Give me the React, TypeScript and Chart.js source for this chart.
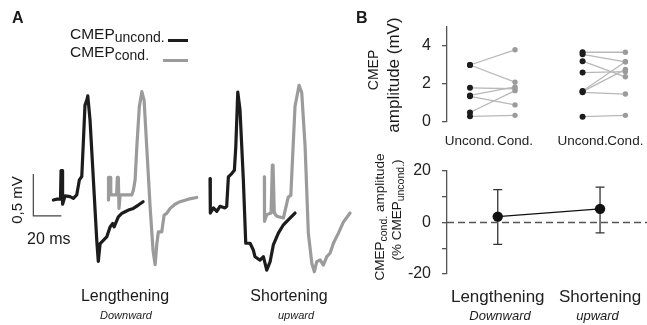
import React, { useEffect, useRef } from "react";
import { Chart, registerables } from "chart.js";
Chart.register(...registerables);
Chart.defaults.font.family = '"Liberation Sans", Arial, Helvetica, sans-serif';

// ---------------- Panel A: CMEP traces (t in ms from trace start, amplitude in mV) ----------------
const lengUncondT = [0, 2.6, 5.1, 5.5, 6.2, 6.6, 8.4, 11.9, 14.3, 16.7, 18.6, 20.3, 21.4, 22.6, 23.9, 24.6, 26.2, 28.6, 31.0, 32.1, 33.4, 35.7, 38.1, 40.5, 42.4, 43.4, 46.4, 48.9, 51.2, 53.6, 57.1, 60.7, 64.1];
const lengUncondMv = [0, 0.01, 0.01, 0.35, 0.35, -0.05, 0.05, 0.04, 0.02, 0.06, 0.24, 0.28, 0.68, 1.13, 1.19, 1.24, 0.95, 0.24, -0.48, -0.73, -0.52, -0.48, -0.44, -0.32, -0.28, -0.32, -0.2, -0.16, -0.14, -0.12, -0.1, -0.06, -0.02];
const lengCondT = [0, 0.1, 1.2, 1.7, 5.9, 6.4, 7.1, 7.6, 8.4, 16.7, 17.9, 19.1, 20.3, 22.1, 23.9, 25.5, 27.4, 29.8, 31.9, 33.4, 34.6, 35.7, 38.1, 39.8, 41.7, 44.1, 47.6, 51.2, 57.1, 63.1];
const lengCondMv = [0, 0.27, 0.27, 0.06, 0.06, 0.27, 0.27, -0.1, 0.06, 0.06, 0.12, 0.24, 0.63, 1.11, 1.29, 1.19, 0.63, -0.08, -0.6, -0.77, -0.52, -0.38, -0.38, -0.18, -0.16, -0.1, -0.05, -0.02, 0.01, 0.03];
const shortUncondT = [0, 0.2, 2.4, 4.8, 7.1, 10.7, 11.9, 13.1, 15.5, 17.4, 18.4, 19.8, 21.4, 23.8, 25.5, 28.6, 30.9, 32.1, 35.7, 38.1, 40.5, 42.9, 45.2, 48.8, 52.4, 57.1, 60.7];
const shortUncondMv = [0.35, -0.06, 0, -0.04, 0.02, 0, 0.02, 0.37, 0.41, 0.45, 0.73, 1.38, 1.17, 0.33, -0.42, -0.42, -0.5, -0.58, -0.62, -0.58, -0.74, -0.64, -0.44, -0.3, -0.2, -0.12, -0.06];
const shortCondT = [0, 0.1, 1.7, 4.8, 5.7, 6.2, 7.1, 8.9, 13.6, 17.1, 18.9, 20.3, 21.9, 24.8, 26.7, 29.1, 31.4, 33.9, 35.7, 37.4, 39.8, 42.1, 44.6, 46.9, 49.3, 52.9, 56.4, 61.2];
const shortCondMv = [0.43, -0.1, -0.02, 0, 0.57, 0.57, 0, -0.04, -0.06, 0.19, 0.21, 0.71, 1.27, 1.52, 1.43, 0.79, -0.24, -0.6, -0.7, -0.58, -0.56, -0.62, -0.52, -0.48, -0.36, -0.24, -0.11, 0];

// scale bar values
const scaleBarMv = 0.5;
const scaleBarMs = 20;

// ---------------- Panel B top: individual CMEP amplitudes (mV) ----------------
const lengUncond = [3.0, 3.0, 1.8, 1.4, 1.35, 0.5, 0.3];
const lengCond = [3.8, 2.1, 1.75, 1.85, 0.9, 1.65, 0.35];
const shortUncond = [3.67, 3.56, 3.2, 2.6, 1.63, 1.6, 1.56, 0.28];
const shortCond = [3.67, 3.17, 2.38, 2.65, 3.17, 2.77, 1.47, 0.35];
const pairTickLabels = ["Uncond.", "Cond.", "Uncond.", "Cond."];
const ampTicks = [0, 2, 4];

// ---------------- Panel B bottom: mean change (% CMEP uncond.) ----------------
const conditions = ["Lengthening", "Shortening"];
const directions = ["Downward", "upward"];
const meanChange = [2.3, 5.3];
const errUpper = [12.8, 13.7];
const errLower = [-8.5, -4.0];
const pctTicks = [-20, 0, 20];

// ---------------- layout constants (not data) ----------------
const A_OFF = {
  lengUncond: [38.1, 0.19],
  lengCond: [77.4, 0.19],
  shortUncond: [150.0, 0.095],
  shortCond: [188.8, 0.036],
};
const SCALEBAR_X = 23.8;
const PAIR_POS = [1, 2, 3.5, 4.45];
const BLACK = "#1c1c1c";
const GRAY = "#9b9b9b";
const AXIS = "#555";

function ChartCanvas({ left, top, width, height, make }: any) {
  const ref = useRef<HTMLCanvasElement>(null);
  useEffect(() => {
    const chart = new Chart(ref.current as HTMLCanvasElement, make());
    return () => chart.destroy();
  }, []);
  return (
    <canvas
      ref={ref}
      width={width}
      height={height}
      style={{ position: "absolute", left, top, width, height }}
    />
  );
}

function trace(T: number[], V: number[], off: number[], color: string) {
  return {
    data: T.map((t, i) => ({ x: t + off[0], y: V[i] + off[1] })),
    borderColor: color,
    borderWidth: 3.2,
    pointRadius: 0,
    tension: 0,
    borderJoinStyle: "round",
    borderCapStyle: "round",
    fill: false,
  };
}

const baseOpts = {
  responsive: false,
  animation: false,
  events: [],
  plugins: { legend: { display: false }, tooltip: { enabled: false } },
};

function makeA(): any {
  return {
    type: "line",
    data: {
      datasets: [
        trace(lengUncondT, lengUncondMv, A_OFF.lengUncond, BLACK),
        trace(shortUncondT, shortUncondMv, A_OFF.shortUncond, BLACK),
        trace(lengCondT, lengCondMv, A_OFF.lengCond, GRAY),
        trace(shortCondT, shortCondMv, A_OFF.shortCond, GRAY),
        {
          data: [
            { x: SCALEBAR_X, y: scaleBarMv },
            { x: SCALEBAR_X, y: 0 },
            { x: SCALEBAR_X + scaleBarMs, y: 0 },
          ],
          borderColor: "#444",
          borderWidth: 1.2,
          pointRadius: 0,
          tension: 0,
        },
      ],
    },
    options: {
      ...baseOpts,
      layout: { padding: 0, autoPadding: false },
      scales: {
        x: { type: "linear", min: 0, max: 257.1, display: false },
        y: { type: "linear", min: -1.298, max: 2.571, display: false },
      },
    },
  };
}

function yAxis(min: number, max: number, step: number, shown: number[]) {
  return {
    type: "linear",
    min,
    max,
    ticks: {
      stepSize: step,
      font: { size: 16 },
      color: "#222",
      padding: 11,
      callback: (v: number) => (shown.includes(v) ? String(v) : ""),
    },
    grid: { drawOnChartArea: false, drawTicks: true, tickLength: 5, color: AXIS, lineWidth: 1.3 },
    border: { display: true, color: AXIS, width: 1.3 },
    afterFit: (s: any) => {
      s.width = 117;
      s.paddingTop = 0;
      s.paddingBottom = 0;
    },
  };
}

function xAxis(min: number, max: number, positions: number[], labels: string[], size: number, gap: number, height: number) {
  return {
    type: "linear",
    min,
    max,
    afterBuildTicks: (s: any) => {
      s.ticks = positions.map((v) => ({ value: v }));
    },
    ticks: {
      autoSkip: false,
      maxRotation: 0,
      minRotation: 0,
      font: { size },
      color: "#222",
      padding: 0,
      callback: (_v: any, i: number) => labels[i],
    },
    grid: { display: false, drawTicks: true, tickLength: gap },
    border: { display: false },
    afterFit: (s: any) => {
      s.height = height;
      s.paddingLeft = 0;
      s.paddingRight = 0;
    },
  };
}

function makeB1(): any {
  const lines: any[] = [];
  lengUncond.forEach((u, i) =>
    lines.push({
      data: [
        { x: PAIR_POS[0], y: u },
        { x: PAIR_POS[1], y: lengCond[i] },
      ],
    })
  );
  shortUncond.forEach((u, i) =>
    lines.push({
      data: [
        { x: PAIR_POS[2], y: u },
        { x: PAIR_POS[3], y: shortCond[i] },
      ],
    })
  );
  return {
    type: "line",
    data: {
      datasets: [
        {
          data: [
            ...lengUncond.map((v) => ({ x: PAIR_POS[0], y: v })),
            ...shortUncond.map((v) => ({ x: PAIR_POS[2], y: v })),
          ],
          showLine: false,
          pointRadius: 3,
          pointBorderWidth: 0,
          pointBackgroundColor: BLACK,
        },
        {
          data: [
            ...lengCond.map((v) => ({ x: PAIR_POS[1], y: v })),
            ...shortCond.map((v) => ({ x: PAIR_POS[3], y: v })),
          ],
          showLine: false,
          pointRadius: 2.7,
          pointBorderWidth: 0,
          pointBackgroundColor: GRAY,
        },
        ...lines.map((l) => ({
          ...l,
          borderColor: "#b8b8b8",
          borderWidth: 1.3,
          pointRadius: 0,
          tension: 0,
        })),
      ],
    },
    options: {
      ...baseOpts,
      layout: { padding: { top: 27, left: 0, right: 0, bottom: 0 }, autoPadding: false },
      scales: {
        x: xAxis(0.49, 4.93, PAIR_POS, pairTickLabels, 13.5, 11.5, 38),
        y: yAxis(0, 5, 1, ampTicks),
      },
    },
  };
}

const errorBars = {
  id: "errorBars",
  beforeDatasetsDraw(chart: any) {
    const { ctx, scales } = chart;
    const x = scales.x;
    const y = scales.y;
    ctx.save();
    ctx.strokeStyle = "#333";
    ctx.lineWidth = 1.3;
    meanChange.forEach((_m, i) => {
      const px = x.getPixelForValue(i + 1);
      const pt = y.getPixelForValue(errUpper[i]);
      const pb = y.getPixelForValue(errLower[i]);
      ctx.beginPath();
      ctx.moveTo(px, pt);
      ctx.lineTo(px, pb);
      ctx.moveTo(px - 4.5, pt);
      ctx.lineTo(px + 4.5, pt);
      ctx.moveTo(px - 4.5, pb);
      ctx.lineTo(px + 4.5, pb);
      ctx.stroke();
    });
    ctx.restore();
  },
};

function makeB2(): any {
  const xmin = 0.504;
  const xmax = 2.459;
  return {
    type: "line",
    data: {
      datasets: [
        {
          data: meanChange.map((m, i) => ({ x: i + 1, y: m })),
          borderColor: "#111",
          borderWidth: 1.2,
          pointRadius: 5.2,
          pointBorderWidth: 0,
          pointBackgroundColor: "#111",
          tension: 0,
        },
        {
          data: [
            { x: xmin, y: 0 },
            { x: xmax, y: 0 },
          ],
          borderColor: "#555",
          borderWidth: 1.5,
          borderDash: [7, 4],
          pointRadius: 0,
        },
      ],
    },
    plugins: [errorBars],
    options: {
      ...baseOpts,
      layout: { padding: { top: 11, left: 0, right: 0, bottom: 0 }, autoPadding: false },
      scales: {
        x: xAxis(xmin, xmax, [1, 2], conditions, 17, 13, 51),
        y: yAxis(-20, 20, 10, pctTicks),
      },
    },
  };
}

function Txt({ x, y, size, anchor = "start", bold = false, italic = false, children }: any) {
  const tx = anchor === "middle" ? "-50%" : anchor === "end" ? "-100%" : "0";
  return (
    <div
      style={{
        position: "absolute",
        left: x,
        top: y - 0.8465 * size,
        fontSize: size,
        lineHeight: `${size}px`,
        fontWeight: bold ? 700 : 400,
        fontStyle: italic ? "italic" : "normal",
        whiteSpace: "nowrap",
        transform: `translateX(${tx})`,
        color: "#1a1a1a",
      }}
    >
      {children}
    </div>
  );
}

function VTxt({ cx, cy, size, children }: any) {
  return (
    <div
      style={{
        position: "absolute",
        left: cx,
        top: cy,
        fontSize: size,
        lineHeight: `${size}px`,
        whiteSpace: "nowrap",
        transform: "translate(-50%,-50%) rotate(-90deg)",
        color: "#1a1a1a",
      }}
    >
      {children}
    </div>
  );
}

const Sub = ({ children, size = 11, drop = 4 }: any) => (
  <span style={{ fontSize: size, position: "relative", top: drop }}>{children}</span>
);

export default function App() {
  return (
    <div
      style={{
        position: "absolute",
        left: 0,
        top: 0,
        width: 647,
        height: 325,
        overflow: "hidden",
        background: "#fff",
        fontFamily: '"Liberation Sans", Arial, Helvetica, sans-serif',
      }}
    >
      <ChartCanvas left={0} top={0} width={360} height={325} make={makeA} />
      <ChartCanvas left={330} top={0} width={317} height={160} make={makeB1} />
      <ChartCanvas left={330} top={160} width={317} height={165} make={makeB2} />

      {/* Panel labels */}
      <Txt x={12} y={24} size={16} bold>
        A
      </Txt>
      <Txt x={356} y={24} size={16} bold>
        B
      </Txt>

      {/* Legend */}
      <Txt x={70} y={39.5} size={15.5}>
        CMEP<Sub size={14} drop={3}>uncond.</Sub>
      </Txt>
      <div style={{ position: "absolute", left: 168, top: 38.5, width: 20, height: 3, background: BLACK }} />
      <Txt x={70} y={57} size={15.5}>
        CMEP<Sub size={14} drop={3}>cond.</Sub>
      </Txt>
      <div style={{ position: "absolute", left: 163, top: 58.5, width: 25, height: 3, background: GRAY }} />

      {/* Scale bar labels */}
      <VTxt cx={16} cy={200} size={15}>
        0,5 mV
      </VTxt>
      <Txt x={27} y={245} size={16}>
        20 ms
      </Txt>

      {/* Panel A condition labels */}
      <Txt x={125} y={302} size={16} anchor="middle">
        {conditions[0]}
      </Txt>
      <Txt x={126} y={319} size={11} anchor="middle" italic>
        {directions[0]}
      </Txt>
      <Txt x={289} y={302} size={16} anchor="middle">
        {conditions[1]}
      </Txt>
      <Txt x={296} y={319} size={11} anchor="middle" italic>
        {directions[1]}
      </Txt>

      {/* Panel B top: axis title */}
      <VTxt cx={373} cy={70} size={14}>
        CMEP
      </VTxt>
      <VTxt cx={393} cy={75} size={17}>
        amplitude (mV)
      </VTxt>

      {/* Panel B bottom: axis title and italic sub-labels */}
      <VTxt cx={380} cy={217} size={13.5}>
        CMEP<Sub size={10.5} drop={3}>cond.</Sub> amplitude
      </VTxt>
      <VTxt cx={397} cy={210} size={13.5}>
        (% CMEP<Sub size={10.5} drop={3}>uncond.</Sub>)
      </VTxt>
      <Txt x={500} y={320} size={13} anchor="middle" italic>
        {directions[0]}
      </Txt>
      <Txt x={597.5} y={320} size={13} anchor="middle" italic>
        {directions[1]}
      </Txt>
    </div>
  );
}
